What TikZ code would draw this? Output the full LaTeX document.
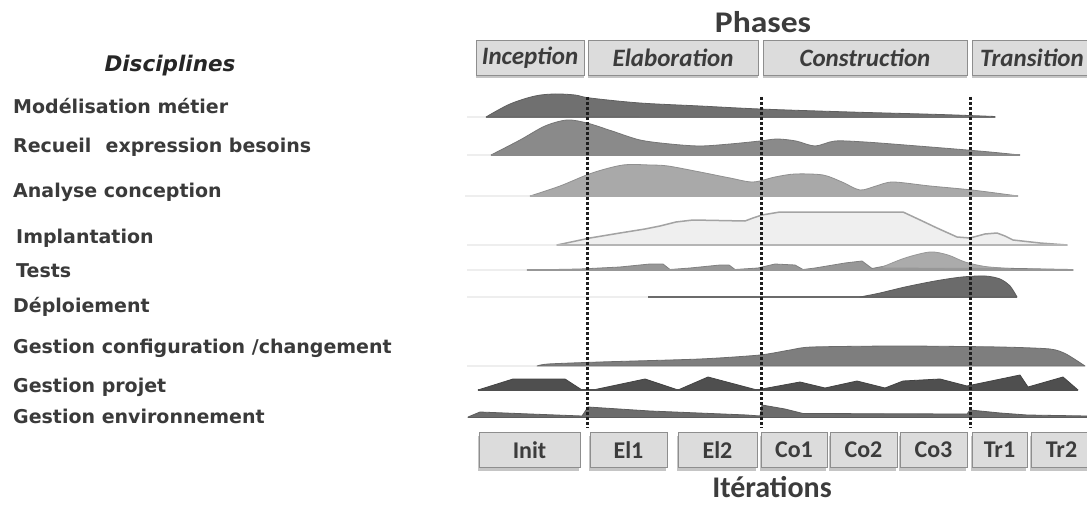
\documentclass[tikz,border=0pt]{standalone}
\usepackage{fontspec}
\newfontfamily\labfont{DejaVu Sans}
\newfontfamily\calfont{Carlito}
\usetikzlibrary{shadows}

\definecolor{labgray}{HTML}{3A3A3A}
\definecolor{titlegray}{HTML}{3C3C3C}
\definecolor{boxfill}{HTML}{DCDCDC}
\definecolor{boxedge}{HTML}{8E8E8E}
\definecolor{faint}{HTML}{EEEEEE}
\definecolor{modfill}{HTML}{707070}
\definecolor{recfill}{HTML}{8A8A8A}
\definecolor{anafill}{HTML}{A9A9A9}
\definecolor{impfill}{HTML}{EFEFEF}
\definecolor{impedge}{HTML}{A3A3A3}
\definecolor{tstfill}{HTML}{979797}
\definecolor{tstlight}{HTML}{ABABAB}
\definecolor{depfill}{HTML}{6B6B6B}
\definecolor{cfgfill}{HTML}{7E7E7E}
\definecolor{prjfill}{HTML}{4F4F4F}
\definecolor{envfill}{HTML}{6C6C6C}
\definecolor{dashcol}{HTML}{1E1E1E}

\tikzset{
  discipline/.style={anchor=base west, inner sep=0pt, text=labgray,
    font=\labfont\bfseries\fontsize{19}{22}\selectfont},
  phasebox/.style={draw=boxedge, fill=boxfill, line width=1pt, inner sep=0pt,
    minimum height=35pt, text=titlegray,
    font=\calfont\bfseries\itshape\fontsize{25}{28}\selectfont,
    drop shadow={shadow xshift=0pt, shadow yshift=-3pt, opacity=0.45}},
  iterbox/.style={draw=boxedge, fill=boxfill, line width=1pt, inner sep=0pt,
    minimum height=35pt, text=titlegray,
    font=\calfont\bfseries\fontsize{24}{27}\selectfont,
    drop shadow={shadow xshift=-1pt, shadow yshift=-3pt, opacity=0.45}},
  curve/.style={line width=0.8pt, line join=round},
  baseline/.style={line width=1.4pt},
  faintline/.style={draw=faint, line width=1.5pt},
  phaseline/.style={draw=dashcol, line width=3pt, dash pattern=on 3pt off 2pt}
}

\begin{document}
\begin{tikzpicture}[x=1pt, y=-1pt]
\useasboundingbox (0,0) rectangle (1087,516);
\clip (0,0) rectangle (1087,516);
\fill[white] (0,0) rectangle (1087,516);

% ---- titles ----
\node[text=titlegray, font=\calfont\bfseries\fontsize{30}{33}\selectfont, anchor=base] (phases) at (763,33) {\scalebox{1.12}[1]{Phases}};
\node[text=black!85, font=\labfont\bfseries\itshape\fontsize{21.5}{24}\selectfont, anchor=base] (disc) at (170,72) {Disciplines};
\node[text=titlegray, font=\calfont\bfseries\fontsize{30}{33}\selectfont, anchor=base] (iters) at (772,497) {Itérations};

% ---- phase boxes ----
\node[phasebox, minimum width=108pt] (inc) at (530,58) {Inception};
\node[phasebox, minimum width=170pt] (ela) at (673,58) {Elaboration};
\node[phasebox, minimum width=204pt] (con) at (865,58) {Construction};
\node[phasebox, minimum width=120pt] (tra) at (1032,58) {Transition};

% ---- discipline labels ----
\node[discipline] (l1) at (13,114) {Modélisation métier};
\node[discipline] (l2) at (13,153) {Recueil\hspace{0.4em} expression besoins};
\node[discipline] (l3) at (13,197) {Analyse conception};
\node[discipline] (l4) at (16,243) {Implantation};
\node[discipline] (l5) at (16,277) {Tests};
\node[discipline] (l6) at (13,312) {Déploiement};
\node[discipline] (l7) at (13,353) {Gestion configuration /changement};
\node[discipline] (l8) at (13,392) {Gestion projet};
\node[discipline] (l9) at (13,423) {Gestion environnement};

% ---- faint leaders to the left of each profile ----
\draw[faintline] (467,117) -- (486,117);
\draw[faintline] (467,155) -- (491,155);
\draw[faintline] (465,196) -- (530,196);
\draw[faintline] (467,245) -- (557,245);
\draw[faintline] (467,270) -- (527,270);
\draw[faintline] (467,297) -- (648,297);
\draw[faintline] (467,366) -- (537,366);

% ---- Modélisation métier ----
\filldraw[curve, fill=modfill, draw=modfill!85!black]
  plot[smooth, tension=0.55] coordinates {(486,117) (510,104) (535,96) (555,94) (575,95) (590,98)
    (640,103) (700,106) (760,109) (850,112) (940,114.5) (995,116.5)} -- (995,117.5) -- cycle;
\draw[baseline, modfill] (486,117.5) -- (995,117.5);

% ---- Recueil expression besoins ----
\filldraw[curve, fill=recfill, draw=recfill!85!black]
  plot[smooth, tension=0.5] coordinates {(491,155) (520,140) (545,126) (567,120) (587,123)
    (612,131) (640,140) (670,144) (700,146) (730,144) (760,141) (777,139) (796,141)
    (815,146) (835,141) (865,142) (905,145) (955,149) (990,152) (1020,155)} -- cycle;
\draw[baseline, recfill] (491,155) -- (1020,155);

% ---- Analyse conception ----
\filldraw[curve, fill=anafill, draw=anafill!85!black]
  plot[smooth, tension=0.5] coordinates {(530,196) (560,186) (592,173) (623,165) (650,165)
    (668,166) (700,172) (730,178) (753,182) (775,177) (795,174) (823,175) (842,182)
    (860,190) (876,186) (893,182) (930,186) (972,190) (1018,196)} -- cycle;
\draw[baseline, anafill] (530,196) -- (1018,196);

% ---- Implantation ----
\filldraw[line width=1.5pt, line join=round, fill=impfill, draw=impedge]
  (557,245) -- (590,238) -- (620,233) -- (645,229) -- (660,226) -- (676,222) -- (693,220)
  -- (745,221) -- (753,218) -- (762,215) -- (780,212) -- (903,212) -- (918,219)
  -- (937,228) -- (957,237) -- (970,238) -- (985,234) -- (997,233) -- (1005,236)
  -- (1013,240) -- (1040,243) -- (1067,245) -- cycle;
\draw[line width=1.8pt, impedge!80] (557,245) -- (1067,245);

% ---- Tests ----
\filldraw[curve, fill=tstfill, draw=tstfill!85!black]
  (527,270) -- (580,269) -- (620,267) -- (650,264) -- (663,264) -- (670,269.5)
  -- (690,268) -- (720,265) -- (729,265) -- (735,269.5) -- (758,268) -- (775,264)
  -- (795,265) -- (803,269.5) -- (815,268) -- (845,263) -- (862,261) -- (872,268.5)
  -- (885,266) -- (1073,269.5) -- (1073,270.5) -- cycle;
\filldraw[curve, fill=tstlight, draw=tstfill]
  plot[smooth, tension=0.5] coordinates {(880,268) (905,258) (930,252) (948,255)
    (965,262) (985,266.5) (1010,268.5)} -- cycle;
\draw[baseline, tstfill] (527,270) -- (1073,270);

% ---- Déploiement ----
\draw[line width=2pt, depfill] (648,297) -- (1017,297);
\filldraw[curve, fill=depfill, draw=depfill!85!black]
  plot[smooth, tension=0.5] coordinates {(860,297) (880,293) (905,287) (935,281)
    (962,277) (985,276) (1000,279) (1010,286) (1017,297)} -- cycle;

% ---- Gestion configuration / changement ----
\filldraw[curve, fill=cfgfill, draw=cfgfill!85!black]
  plot[smooth, tension=0.4] coordinates {(537,366) (548,364) (600,362) (700,359) (760,355)
    (790,350) (812,347) (900,346) (1000,347) (1050,349) (1066,354) (1085,366)} -- cycle;

% ---- Gestion projet ----
\filldraw[curve, fill=prjfill, draw=prjfill!85!black]
  (478,390) -- (513,379) -- (565,379) -- (582,390) -- (593,390) -- (645,379) -- (678,390)
  -- (708,377) -- (757,390) -- (762,389) -- (800,382) -- (825,388) -- (857,381)
  -- (885,388) -- (903,381) -- (940,379) -- (967,386) -- (1020,375) -- (1028,387)
  -- (1063,377) -- (1078,390) -- cycle;
\draw[baseline, prjfill] (478,390) -- (1078,390);

% ---- Gestion environnement ----
\filldraw[curve, fill=envfill, draw=envfill!85!black]
  (468,417) -- (480,412) -- (530,414) -- (582,416) -- (588,407) -- (650,411) -- (747,415)
  -- (760,416) -- (762,405) -- (785,409) -- (803,413.5) -- (967,414) -- (970,410)
  -- (1000,413) -- (1027,415) -- (1087,416) -- (1087,417.5) -- (468,417.5) -- cycle;

% ---- phase boundaries ----
\coordinate (b1t) at (587,97);  \coordinate (b1b) at (587,428);
\coordinate (b2t) at (761,97);  \coordinate (b2b) at (761,428);
\coordinate (b3t) at (970,97);  \coordinate (b3b) at (970,428);
\draw[phaseline] (b1t) -- (b1b);
\draw[phaseline] (b2t) -- (b2b);
\draw[phaseline] (b3t) -- (b3b);

% ---- iteration boxes ----
\node[iterbox, minimum width=101pt] (init) at (529.5,450) {Init};
\node[iterbox, minimum width=77pt]  (el1)  at (628.5,450) {El1};
\node[iterbox, minimum width=79pt]  (el2)  at (717.5,450) {El2};
\node[iterbox, minimum width=66pt]  (co1)  at (794,450)   {Co1};
\node[iterbox, minimum width=67pt]  (co2)  at (863.5,450) {Co2};
\node[iterbox, minimum width=67pt]  (co3)  at (933.5,450) {Co3};
\node[iterbox, minimum width=55pt]  (tr1)  at (999.5,450) {Tr1};
\node[iterbox, minimum width=61pt]  (tr2)  at (1061.5,450) {Tr2};
\end{tikzpicture}
\end{document}
